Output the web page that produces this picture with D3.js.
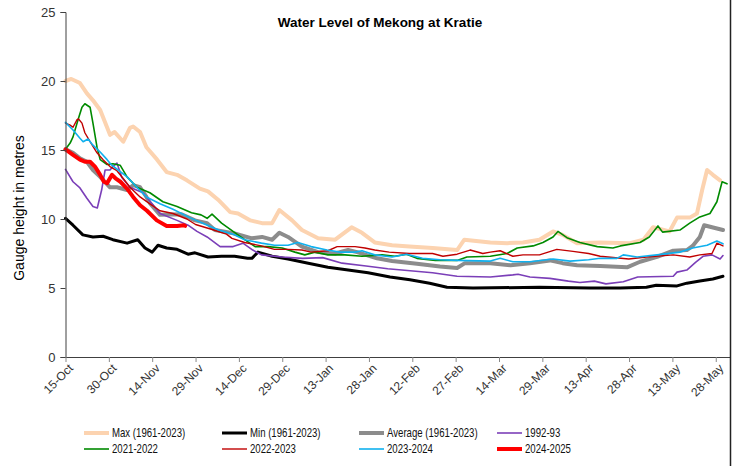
<!DOCTYPE html>
<html><head><meta charset="utf-8">
<script src="https://cdn.jsdelivr.net/npm/d3@7"></script>
<style>
html,body{margin:0;padding:0;background:#fff;}
svg{display:block;}
</style>
</head><body>
<svg id="chart" width="733" height="466"></svg>
<script>
// ---- DATA (day index from 15-Oct, gauge height in metres) ----
const tickDays = [0,15,30,45,60,75,90,105,120,135,150,165,180,195,210,225];
const tickLabels = ["15-Oct","30-Oct","14-Nov","29-Nov","14-Dec","29-Dec","13-Jan","28-Jan","12-Feb","27-Feb","14-Mar","29-Mar","13-Apr","28-Apr","13-May","28-May"];
const yTicks = [0,5,10,15,20,25];

const maxSeries = [[0,20.0],[2,20.15],[5,19.85],[7.4,19.1],[9.5,18.6],[12,17.9],[15.4,16.1],[17,16.3],[20,15.6],[22.3,16.6],[23.4,16.7],[25.8,16.3],[28,15.2],[31.7,14.3],[35,13.4],[38.6,13.2],[42,12.8],[46.5,12.2],[49.3,12.0],[52.8,11.4],[57,10.5],[59.7,10.4],[64,9.9],[68,9.7],[71.5,9.7],[74,10.65],[78.4,9.9],[81.8,9.2],[87.4,8.6],[93.3,8.5],[99,9.4],[102.6,9.0],[107,8.3],[113,8.1],[119,8.0],[127,7.9],[135.5,7.75],[138,8.5],[147,8.3],[152.8,8.25],[158.3,8.3],[164,8.5],[168.7,9.1],[172,8.85],[177,8.25],[185,8.3],[195.3,8.25],[200,8.5],[203.3,9.4],[209,9.1],[211.6,10.1],[216,10.1],[218.5,10.4],[220.3,12.1],[222,13.55],[224,13.2],[226.5,12.8]];

const minSeries = [[0,10.05],[2.6,9.55],[6,8.85],[9.5,8.7],[13,8.75],[16.4,8.5],[21.3,8.25],[25,8.5],[27.5,7.9],[30,7.6],[32,8.1],[35,7.9],[38.6,7.8],[42.4,7.45],[44.8,7.55],[49.3,7.25],[54,7.3],[58.5,7.3],[63,7.15],[64.5,7.15],[66.6,7.6],[71.5,7.3],[77,7.1],[84,6.8],[90.8,6.5],[97.8,6.3],[104.7,6.1],[112.3,5.8],[119.2,5.6],[126,5.35],[132,5.05],[141,5.0],[164,5.05],[181.5,5.0],[191.9,5.0],[201,5.05],[204.4,5.2],[211.6,5.15],[215,5.35],[219.5,5.5],[224,5.65],[227.5,5.85]];

const avgSeries = [[0,15.05],[2.6,14.8],[5,14.4],[7.4,14.15],[9.5,13.55],[12,13.05],[15.4,12.3],[17.8,12.3],[21.3,12.1],[23.4,12.45],[25.8,12.3],[28,11.6],[29.2,11.15],[32.7,10.3],[40,10.35],[44.8,9.9],[49,9.7],[51.7,9.2],[58.5,8.95],[64.5,8.6],[68,8.7],[71.5,8.5],[74,9.0],[77,8.7],[81.8,8.0],[87.4,7.6],[93.3,7.5],[97.8,7.75],[100.9,7.6],[107.8,7.15],[113,6.95],[121.6,6.75],[129.6,6.55],[135.5,6.45],[138.2,6.8],[147,6.8],[154,6.65],[160.7,6.8],[167.6,7.0],[172,6.8],[177,6.65],[185,6.6],[194.3,6.5],[198.8,6.9],[204.7,7.25],[210.3,7.7],[215,7.75],[217,8.05],[219.5,8.7],[221,9.55],[223.7,9.4],[227.5,9.2]];

const s1992 = [[0,13.6],[2.6,12.7],[5,12.25],[7.4,11.5],[9.5,10.9],[11,10.8],[12.5,12.1],[13.7,13.55],[15.4,13.55],[16.4,13.8],[17.8,14.05],[19.5,13.0],[22.3,12.3],[26.8,11.9],[32.7,10.4],[38.6,9.9],[42.4,9.55],[45.5,9.1],[49,8.7],[53.5,8.0],[58,8.0],[61.4,8.25],[64.8,7.75],[67.8,7.4],[75,7.25],[82,7.15],[89,7.2],[95.7,6.8],[104,6.6],[111.5,6.4],[127,6.1],[135.5,5.85],[147,5.8],[154.8,5.95],[156.6,6.0],[160.7,5.8],[167.6,5.7],[174,5.5],[178,5.4],[183,5.5],[187,5.3],[193,5.45],[198,5.8],[210.3,5.85],[211.6,6.15],[215,6.3],[218,6.85],[220.6,7.3],[223.7,7.4],[226.5,7.1],[227.5,7.35]];

const s2021 = [[0,15.05],[1.6,15.5],[2.6,15.95],[4.5,17.3],[5.7,18.1],[6.7,18.35],[8.5,18.1],[9.5,16.95],[10.9,15.2],[12,14.3],[14.4,13.95],[16.4,14.0],[18.9,13.9],[21.3,13.05],[24.7,12.3],[29.2,11.9],[33.7,11.25],[38.6,10.9],[43.6,10.45],[46.9,10.3],[49,10.05],[50.7,10.35],[54,9.7],[58.7,9.0],[62,8.5],[65.6,8.0],[70,8.0],[75,7.9],[79.4,7.6],[82.8,7.4],[86.3,7.6],[90.8,7.4],[96.7,7.4],[102.6,7.3],[109.5,7.4],[114,7.3],[118,7.45],[121.6,7.15],[128,7.0],[135.5,7.0],[138.9,7.25],[147,7.3],[152.8,7.5],[156.3,7.9],[161.8,8.05],[165.2,8.3],[168.7,8.7],[170.4,9.1],[173.5,8.65],[178,8.3],[184,8.0],[189.4,7.9],[192,8.05],[198.8,8.3],[202,8.7],[205,9.5],[206.6,9.05],[212.6,9.2],[216,9.7],[219.5,10.15],[223,10.4],[225.4,11.25],[227.2,12.7],[228.9,12.55]];

const s2022 = [[0,16.95],[1.6,16.8],[2.6,16.65],[4,17.2],[4.5,17.25],[5.7,16.95],[6.7,16.25],[8.5,15.6],[10.9,14.8],[13,14.3],[15.4,13.8],[17.8,13.5],[19.9,12.95],[22.3,12.3],[25.8,11.6],[29.2,11.1],[32.7,10.6],[37.2,10.4],[42,10.0],[45,9.6],[51.3,9.2],[55.7,8.9],[57.6,8.6],[62,8.3],[67.8,8.05],[72.3,7.8],[77,7.8],[81.8,7.75],[85,7.6],[90.8,7.7],[94,8.0],[100.2,8.0],[103.6,7.9],[107,7.75],[112,7.6],[119,7.5],[127,7.5],[130.6,7.3],[135.5,7.45],[140,7.75],[144.4,7.5],[147,7.6],[150.4,7.7],[154.8,7.3],[158.3,7.4],[164,7.4],[170,7.8],[175.6,7.65],[181,7.5],[185,7.3],[194.9,7.1],[201,7.25],[210.3,7.4],[216,7.25],[219.5,7.4],[223.7,7.5],[225.4,8.25],[227.5,8.05]];

const s2023 = [[0,17.0],[2.6,16.45],[5,15.85],[6.1,15.6],[7.8,15.8],[9.5,15.35],[12,14.85],[14.4,14.3],[16,13.9],[18.2,13.55],[21.3,13.05],[24.7,12.3],[28,11.6],[32.7,11.1],[37.2,10.7],[43,10.1],[48.5,9.6],[53,9.2],[58,8.9],[62,8.5],[67.8,8.25],[72.3,8.1],[77,8.1],[80.4,8.3],[85,8.0],[90.5,7.75],[95,7.6],[100.2,7.6],[102.6,7.7],[107,7.4],[113,7.25],[118,7.45],[123.5,7.15],[129.6,7.05],[135.5,7.0],[147,6.95],[150.4,7.15],[154.8,6.9],[160.7,6.9],[168.7,7.1],[174.6,6.95],[181,7.05],[185,7.15],[190.8,7.15],[193,7.4],[197.8,7.25],[204.7,7.4],[212.6,7.6],[217,7.9],[222,8.1],[225.4,8.4],[227.5,8.2]];

const s2024 = [[0,15.05],[2.6,14.65],[5,14.3],[6.7,14.15],[8.5,14.15],[10.2,13.8],[12,13.2],[13.3,12.7],[14.4,12.6],[16.1,13.2],[17.3,12.95],[19,12.7],[21.3,12.2],[23.4,11.6],[25.8,11.0],[28.2,10.6],[31.6,9.9],[35,9.5],[38.6,9.5],[41,9.55],[41.4,9.5]];

const seriesNames = ["Max (1961-2023)","Min (1961-2023)","Average (1961-2023)","1992-93","2021-2022","2022-2023","2023-2024","2024-2025"];
const seriesData = [maxSeries,minSeries,avgSeries,s1992,s2021,s2022,s2023,s2024];
const seriesColors = ["#FCD3B0","#000000","#8C8C8C","#7B3FB8","#008A00","#C00000","#10B0EE","#FF0000"];
const seriesWidths = [4,3,4,1.6,1.6,1.4,1.6,4];

// ---- CHART ----
const svg = d3.select("#chart");
const x = d3.scaleLinear().domain([0,230]).range([65.5,730.2]);
const y = d3.scaleLinear().domain([0,25]).range([357,12]);
const tickFont = "Liberation Sans, Arial, sans-serif";

// plot lines
const line = d3.line().x(d=>x(d[0])).y(d=>y(d[1]));
const g = svg.append("g");
seriesData.forEach((data,i)=>{
  g.append("path").attr("d",line(data)).attr("fill","none")
    .attr("stroke",seriesColors[i]).attr("stroke-width",seriesWidths[i])
    .attr("stroke-linejoin","round").attr("stroke-linecap","round");
});

// y axis
const yAxis = svg.append("g").attr("transform","translate(65.5,0)")
  .call(d3.axisLeft(y).tickValues(yTicks).tickSize(5).tickPadding(5));
yAxis.select(".domain").attr("stroke","#404040");
yAxis.selectAll(".tick line").attr("stroke","#404040");
yAxis.selectAll("text").attr("font-family",tickFont).attr("font-size",13).attr("fill","#333");

// x axis
const xAxis = svg.append("g").attr("transform","translate(0,357)")
  .call(d3.axisBottom(x).tickValues(tickDays).tickSize(5).tickFormat((d,i)=>tickLabels[i]));
xAxis.select(".domain").attr("stroke","#404040").attr("d","M65.5,0.5H730.5");
xAxis.selectAll(".tick line").attr("stroke","#888");
xAxis.selectAll("text")
  .attr("font-family",tickFont).attr("font-size",12).attr("fill","#333")
  .attr("text-anchor","end").attr("dy","0.35em")
  .attr("transform","translate(5,9) rotate(-45)").attr("y",0).attr("x",0);

// right border
svg.append("line").attr("x1",730.5).attr("x2",730.5).attr("y1",0).attr("y2",466)
  .attr("stroke","#222").attr("stroke-width",1.5);

// title
svg.append("text").attr("x",380).attr("y",27).attr("text-anchor","middle")
  .attr("font-family",tickFont).attr("font-weight","bold").attr("font-size",13.5)
  .attr("fill","#000").text("Water Level of Mekong at Kratie");

// y label
svg.append("text").attr("transform","translate(24,208) rotate(-90)")
  .attr("text-anchor","middle").attr("font-family",tickFont).attr("font-size",14)
  .attr("fill","#000").text("Gauge height in metres");

// legend
const legX = [84,222,359,497];
const legY = [433,449];
const leg = svg.append("g");
seriesNames.forEach((name,i)=>{
  const cx = legX[i%4], cy = legY[Math.floor(i/4)];
  leg.append("line").attr("x1",cx).attr("x2",cx+25).attr("y1",cy).attr("y2",cy)
    .attr("stroke",seriesColors[i]).attr("stroke-width",Math.min(seriesWidths[i],4));
  leg.append("text").attr("transform",`translate(${cx+28},${cy}) scale(0.77,1)`)
    .attr("dy","0.35em")
    .attr("font-family",tickFont).attr("font-size",12.5)
    .attr("fill","#111").text(name);
});
</script>
</body></html>
